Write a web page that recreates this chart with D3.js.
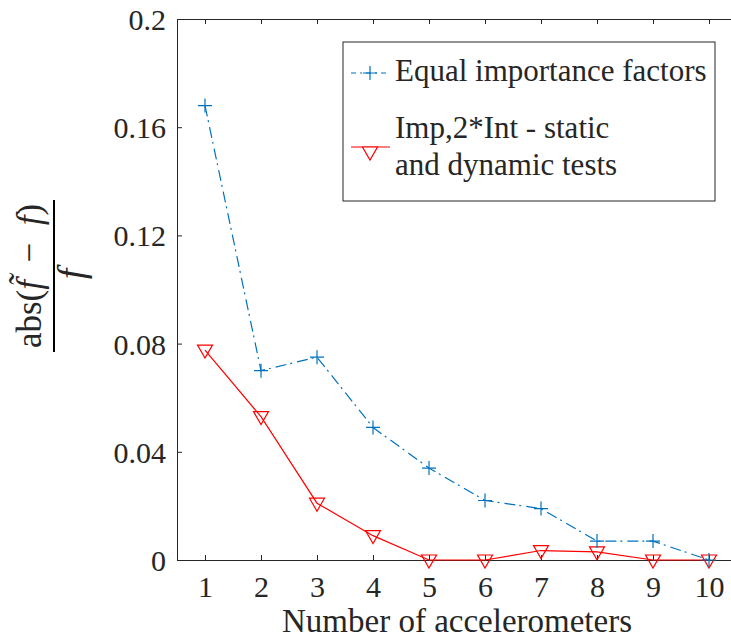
<!DOCTYPE html>
<html>
<head>
<meta charset="utf-8">
<script src="https://cdn.jsdelivr.net/npm/d3@7"></script>
<style>
html,body{margin:0;padding:0;background:#fff;}
svg{display:block;}
text{font-family:"Liberation Serif","Times New Roman",serif;fill:#262626;}
</style>
</head>
<body>
<svg id="chart" width="731" height="643"></svg>
<script>
const categories = [1,2,3,4,5,6,7,8,9,10];
const equalImportance = [0.168,0.070,0.075,0.049,0.034,0.022,0.019,0.007,0.007,0];
const impTwoInt = [0.0776,0.053,0.021,0.009,0,0,0.0035,0.003,0,0];
const yTicks = [0,0.04,0.08,0.12,0.16,0.2];
const yTickLabels = ["0","0.04","0.08","0.12","0.16","0.2"];
const seriesNames = ["Equal importance factors", ["Imp,2*Int - static","and dynamic tests"]];
const xLabel = "Number of accelerometers";

const svg = d3.select("#chart");
const L = 177, R = 737, T = 19, B = 560;
const x = d3.scaleLinear().domain([0.5,10.5]).range([L,R]);
const y = d3.scaleLinear().domain([0,0.2]).range([B,T]);
const axisColor = "#262626";
const fs = 30;
const dash = "11,4,2,5";

// box axes
const gx = svg.append("g").attr("transform",`translate(0,${B})`)
  .call(d3.axisBottom(x).tickValues(categories).tickFormat(d3.format("d")).tickSizeInner(-5).tickSizeOuter(0).tickPadding(16));
const gxt = svg.append("g").attr("transform",`translate(0,${T})`)
  .call(d3.axisTop(x).tickValues(categories).tickFormat("").tickSizeInner(-5).tickSizeOuter(0));
const gy = svg.append("g").attr("transform",`translate(${L},0)`)
  .call(d3.axisLeft(y).tickValues(yTicks).tickFormat((d,i)=>yTickLabels[i]).tickSizeInner(-5).tickSizeOuter(0).tickPadding(11));
const gyr = svg.append("g").attr("transform",`translate(${R},0)`)
  .call(d3.axisRight(y).tickValues(yTicks).tickFormat("").tickSizeInner(-5).tickSizeOuter(0));
[gx,gxt,gy,gyr].forEach(g=>{
  g.select(".domain").attr("stroke",axisColor).attr("stroke-width",1);
  g.selectAll(".tick line").attr("stroke",axisColor).attr("stroke-width",1);
  g.selectAll(".tick text").style("font-family","'Liberation Serif', serif").style("font-size",fs+"px").attr("fill",axisColor);
});
gx.selectAll(".tick text").attr("dy","0.71em");
gy.selectAll(".tick text").attr("dy","0.35em");

const blue = "#0072BD", red = "#FF0000";
const line = d3.line().x((d,i)=>x(categories[i])).y(d=>y(d));

function triangle(cx, cy){
  return `M${cx-7.5},${cy-5}L${cx+7.5},${cy-5}L${cx},${cy+8}Z`;
}
function plus(cx, cy){
  return `M${cx-7},${cy}L${cx+7},${cy}M${cx},${cy-7}L${cx},${cy+7}`;
}

// red series
svg.append("path").datum(impTwoInt).attr("d",line).attr("fill","none")
  .attr("stroke",red).attr("stroke-width",1.2);
svg.append("g").selectAll("path").data(impTwoInt).join("path")
  .attr("d",(d,i)=>triangle(x(categories[i]),y(d)))
  .attr("fill","none").attr("stroke",red).attr("stroke-width",1.2);

// blue series
svg.append("path").datum(equalImportance).attr("d",line).attr("fill","none")
  .attr("stroke",blue).attr("stroke-width",1.2).attr("stroke-dasharray",dash);
svg.append("g").selectAll("path").data(equalImportance).join("path")
  .attr("d",(d,i)=>plus(x(categories[i]),y(d)))
  .attr("fill","none").attr("stroke",blue).attr("stroke-width",1.2);

// legend
const lg = svg.append("g");
lg.append("rect").attr("x",343).attr("y",42).attr("width",372).attr("height",159)
  .attr("fill","#fff").attr("stroke",axisColor).attr("stroke-width",1);
lg.append("line").attr("x1",351).attr("x2",390).attr("y1",73).attr("y2",73)
  .attr("stroke",blue).attr("stroke-width",1.2).attr("stroke-dasharray","5,4,2,4");
lg.append("path").attr("d",plus(370,73)).attr("stroke",blue).attr("stroke-width",1.2).attr("fill","none");
lg.append("text").attr("x",395).attr("y",81).style("font-size","31px").text(seriesNames[0]);
lg.append("line").attr("x1",351).attr("x2",390).attr("y1",147).attr("y2",147)
  .attr("stroke",red).attr("stroke-width",1.2);
lg.append("path").attr("d",`M362.5,147L377.5,147L370,160Z`).attr("stroke",red).attr("stroke-width",1.2).attr("fill","#fff");
lg.append("text").attr("x",395).attr("y",138).style("font-size","31px").text(seriesNames[1][0]);
lg.append("text").attr("x",395).attr("y",175).style("font-size","31px").text(seriesNames[1][1]);

// x label
svg.append("text").attr("x",(L+R)/2).attr("y",632).attr("text-anchor","middle")
  .style("font-size","33px").text(xLabel);

// y label (fraction)
const yl = svg.append("g").attr("transform","translate(54,276) rotate(-90)");
yl.append("line").attr("x1",-76).attr("x2",76).attr("y1",0).attr("y2",0)
  .attr("stroke","#000").attr("stroke-width",2);
const num = yl.append("text").attr("x",0).attr("y",-13).attr("text-anchor","middle").style("font-size","35px").attr("fill","#000");
num.append("tspan").text("abs(");
num.append("tspan").style("font-style","italic").text("f\u0303");
num.append("tspan").text("\u2002\u2212\u2002");
num.append("tspan").style("font-style","italic").text("f");
num.append("tspan").text(")");
yl.append("text").attr("x",2).attr("y",30).attr("text-anchor","middle").style("font-size","38px")
  .style("font-style","italic").attr("fill","#000").text("f");
</script>
</body>
</html>
